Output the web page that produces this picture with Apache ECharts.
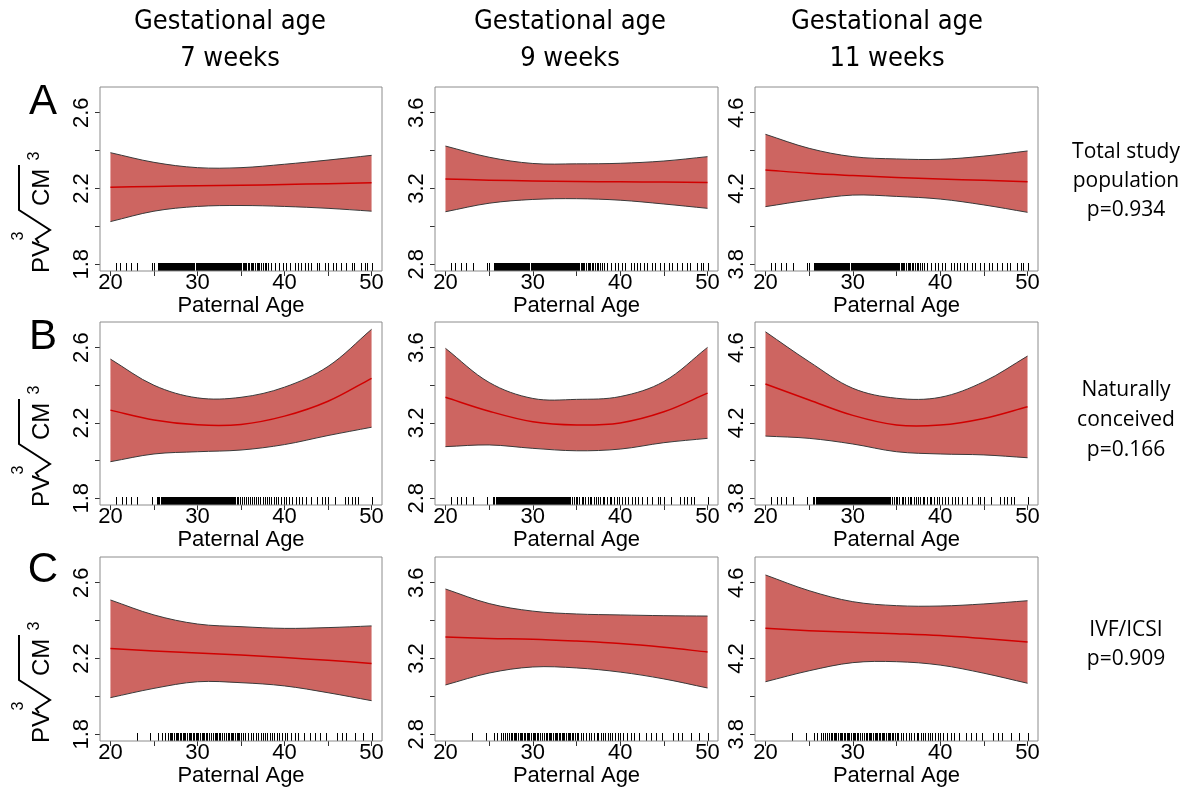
<!DOCTYPE html>
<html>
<head>
<meta charset="utf-8">
<script src="https://cdn.jsdelivr.net/npm/echarts@6/dist/echarts.min.js"></script>
<style>
  html, body { margin: 0; padding: 0; background: #fff; }
  #main { width: 1189px; height: 788px; }
</style>
</head>
<body>
<div id="main"></div>
<script>
// paternal age grid where the fitted curve and its band were read
var ages = [20, 25, 30, 35, 40, 45, 50]

// row A: total study population
var upperA7  = [2.389, 2.338, 2.310, 2.310, 2.328, 2.350, 2.375]
var fitA7    = [2.207, 2.211, 2.214, 2.217, 2.221, 2.225, 2.230]
var lowerA7  = [2.025, 2.080, 2.105, 2.110, 2.105, 2.095, 2.080]
var upperA9  = [3.424, 3.365, 3.332, 3.330, 3.333, 3.345, 3.368]
var fitA9    = [3.250, 3.244, 3.240, 3.237, 3.235, 3.234, 3.232]
var lowerA9  = [3.077, 3.122, 3.142, 3.146, 3.138, 3.118, 3.095]
var upperA11 = [4.486, 4.412, 4.368, 4.356, 4.354, 4.371, 4.398]
var fitA11   = [4.298, 4.280, 4.268, 4.258, 4.250, 4.243, 4.236]
var lowerA11 = [4.104, 4.139, 4.165, 4.158, 4.144, 4.113, 4.074]

// row B: naturally conceived
var upperB7  = [2.539, 2.400, 2.333, 2.336, 2.390, 2.500, 2.697]
var fitB7    = [2.268, 2.216, 2.190, 2.192, 2.236, 2.315, 2.437]
var lowerB7  = [1.994, 2.035, 2.047, 2.056, 2.085, 2.133, 2.177]
var upperB9  = [3.596, 3.415, 3.330, 3.325, 3.340, 3.420, 3.601]
var fitB9    = [3.336, 3.262, 3.206, 3.189, 3.200, 3.259, 3.358]
var lowerB9  = [3.074, 3.083, 3.065, 3.052, 3.061, 3.095, 3.118]
var upperB11 = [4.684, 4.525, 4.384, 4.331, 4.336, 4.419, 4.555]
var fitB11   = [4.407, 4.322, 4.240, 4.189, 4.189, 4.224, 4.286]
var lowerB11 = [4.130, 4.118, 4.088, 4.047, 4.035, 4.030, 4.015]

// row C: IVF/ICSI
var upperC7  = [2.509, 2.430, 2.382, 2.368, 2.359, 2.363, 2.372]
var fitC7    = [2.252, 2.240, 2.229, 2.218, 2.205, 2.190, 2.174]
var lowerC7  = [1.993, 2.042, 2.077, 2.072, 2.055, 2.019, 1.977]
var upperC9  = [3.567, 3.490, 3.450, 3.435, 3.430, 3.426, 3.424]
var fitC9    = [3.313, 3.306, 3.302, 3.292, 3.279, 3.259, 3.234]
var lowerC9  = [3.060, 3.123, 3.155, 3.150, 3.128, 3.092, 3.044]
var upperC11 = [4.641, 4.558, 4.500, 4.479, 4.477, 4.488, 4.505]
var fitC11   = [4.359, 4.347, 4.339, 4.331, 4.321, 4.305, 4.287]
var lowerC11 = [4.077, 4.135, 4.178, 4.183, 4.165, 4.122, 4.069]

// rug marks (observed paternal ages), one set per row
var rugA = [20.6, 21.1, 21.8, 22.4, 23.1, 24.8, 25.0,
  25.5, 25.6, 25.7, 25.8, 25.9, 26.0, 26.1, 26.2, 26.3, 26.4, 26.5, 26.6, 26.7, 26.8, 26.9, 27.0,
  27.1, 27.2, 27.3, 27.4, 27.5, 27.6, 27.7, 27.8, 27.9, 28.0, 28.1, 28.2, 28.3, 28.4, 28.5, 28.6,
  28.7, 28.8, 28.9, 29.0, 29.1, 29.2, 29.3, 29.4, 29.5, 29.6, 29.8, 29.9, 30.0, 30.1, 30.2, 30.3,
  30.4, 30.5, 30.6, 30.7, 30.8, 30.9, 31.0, 31.1, 31.2, 31.3, 31.4, 31.5, 31.6, 31.7, 31.8, 31.9,
  32.0, 32.1, 32.2, 32.3, 32.4, 32.5, 32.6, 32.7, 32.8, 32.9, 33.0, 33.1, 33.2, 33.3, 33.4, 33.5,
  33.6, 33.7, 33.8, 33.9, 34.0, 34.1, 34.2, 34.3, 34.4, 34.5, 34.6, 34.7, 34.8, 34.9, 35.0, 35.2,
  35.3, 35.5, 35.6, 35.8, 35.9, 36.1, 36.3, 36.4, 36.6, 36.8, 36.9, 37.1, 37.3, 37.5, 37.7, 37.9,
  38.1, 38.5, 38.9, 39.4, 39.8, 40.2, 40.6, 41.2, 41.6, 41.9, 42.3, 42.7, 43.1, 43.7, 44.0, 44.6,
  45.0, 45.6, 45.9, 46.5, 47.1, 47.7, 48.0, 48.8, 49.2, 49.5, 50.0]
var rugB = [20.6, 21.3, 21.8, 22.4, 23.1, 24.8,
  25.4, 25.5, 25.6, 25.8, 25.9, 26.0, 26.1, 26.2, 26.3, 26.4, 26.5, 26.6, 26.7, 26.8, 26.9, 27.0,
  27.1, 27.2, 27.3, 27.4, 27.5, 27.6, 27.7, 27.8, 27.9, 28.0, 28.1, 28.2, 28.3, 28.4, 28.5, 28.6,
  28.7, 28.8, 28.9, 29.0, 29.1, 29.2, 29.3, 29.4, 29.5, 29.6, 29.7, 29.8, 29.9, 30.0, 30.1, 30.2,
  30.3, 30.4, 30.5, 30.6, 30.7, 30.8, 30.9, 31.0, 31.1, 31.2, 31.3, 31.4, 31.5, 31.6, 31.7, 31.8,
  31.9, 32.0, 32.1, 32.2, 32.3, 32.4, 32.5, 32.6, 32.7, 32.8, 32.9, 33.0, 33.1, 33.2, 33.3, 33.4,
  33.5, 33.6, 33.7, 33.8, 33.9, 34.0, 34.1, 34.2, 34.3, 34.5, 34.7, 34.9, 35.1, 35.3, 35.6, 35.8,
  36.0, 36.3, 36.5, 36.7, 37.0, 37.2, 37.5, 37.7, 38.0, 38.2, 38.5, 38.8, 39.0, 39.3, 39.6, 39.9,
  40.2, 40.5, 40.9, 41.3, 41.7, 42.0, 42.5, 43.1, 43.7, 44.3, 44.6, 45.0, 45.8, 46.9, 47.3, 47.7,
  48.1, 48.5, 50.0]
var rugC = [23.0, 24.6, 25.5, 25.9, 26.3, 26.6, 26.8, 27.0, 27.1, 27.3, 27.5, 27.6, 27.8, 28.0,
  28.1, 28.3, 28.5, 28.6, 28.8, 29.0, 29.1, 29.3, 29.5, 29.6, 29.8, 30.0, 30.1, 30.3, 30.5, 30.6,
  30.8, 31.0, 31.1, 31.3, 31.5, 31.6, 31.8, 32.0, 32.1, 32.3, 32.5, 32.6, 32.8, 33.0, 33.1, 33.3,
  33.5, 33.6, 33.8, 34.0, 34.1, 34.3, 34.5, 34.6, 34.8, 35.0, 35.2, 35.5, 35.8, 36.1, 36.4, 36.7,
  37.0, 37.3, 37.5, 37.8, 38.0, 38.3, 38.6, 38.8, 39.1, 39.4, 39.7, 40.0, 40.3, 40.8, 41.2, 41.6,
  42.2, 42.9, 43.5, 44.1, 44.8, 46.0, 46.6, 47.1, 48.1, 49.0, 50.0]

// axis ticks and labels
var xTicks = [20, 25, 30, 35, 40, 45, 50]
var xLabels = [20, 30, 40, 50]
var yTicks7 = [1.8, 2.0, 2.2, 2.4, 2.6]
var yLabels7 = [1.8, 2.2, 2.6]
var yTicks9 = [2.8, 3.0, 3.2, 3.4, 3.6]
var yLabels9 = [2.8, 3.2, 3.6]
var yTicks11 = [3.8, 4.0, 4.2, 4.4, 4.6]
var yLabels11 = [3.8, 4.2, 4.6]

var colTitles = ['7 weeks', '9 weeks', '11 weeks']
var rowLetters = ['A', 'B', 'C']
var rowNotes = [
  ['Total study', 'population', 'p=0.934'],
  ['Naturally', 'conceived', 'p=0.166'],
  ['IVF/ICSI', 'p=0.909']
]

var FONT = '"Liberation Sans", Arial, sans-serif'
var TITLE_FONT = '27px "DejaVu Sans Condensed", "Liberation Sans Narrow", sans-serif'
var bandColor = '#cd6561'
var SMOOTH = 0.35

// layout
var cols = [
  { left: 100, width: 282, min: 1.764, max: 2.736, ticks: yTicks7, labels: yLabels7, titleX: 230 },
  { left: 435, width: 283, min: 2.764, max: 3.736, ticks: yTicks9, labels: yLabels9, titleX: 570 },
  { left: 755, width: 283, min: 3.764, max: 4.736, ticks: yTicks11, labels: yLabels11, titleX: 887 }
]
var rows = [
  { top: 87, height: 184, letterY: 102, notes: [152, 181, 210] },
  { top: 322, height: 183, letterY: 337, notes: [390, 420, 450] },
  { top: 557, height: 184, letterY: 570, notes: [630, 659] }
]
var panels = [
  [{ up: upperA7, fit: fitA7, lo: lowerA7 }, { up: upperA9, fit: fitA9, lo: lowerA9 }, { up: upperA11, fit: fitA11, lo: lowerA11 }],
  [{ up: upperB7, fit: fitB7, lo: lowerB7 }, { up: upperB9, fit: fitB9, lo: lowerB9 }, { up: upperB11, fit: fitB11, lo: lowerB11 }],
  [{ up: upperC7, fit: fitC7, lo: lowerC7 }, { up: upperC9, fit: fitC9, lo: lowerC9 }, { up: upperC11, fit: fitC11, lo: lowerC11 }]
]
var rugs = [rugA, rugB, rugC]

// repeat the end points so the closed band and the open edges share one smoothing
function ends(pts) {
  return [pts[0]].concat(pts, [pts[pts.length - 1]])
}

// band + edges + fitted line, all mapped through the panel's axes
function renderBand(params, api) {
  if (params.dataIndexInside !== 0) return null
  var n = params.dataInsideLength
  var lo = [], fit = [], up = []
  for (var k = 0; k < n; k++) {
    var x = api.value(0, k)
    lo.push(api.coord([x, api.value(1, k)]))
    fit.push(api.coord([x, api.value(2, k)]))
    up.push(api.coord([x, api.value(3, k)]))
  }
  var ring = ends(up).concat(ends(lo).reverse())
  return {
    type: 'group',
    children: [
      { type: 'polygon', shape: { points: ring, smooth: SMOOTH }, style: { fill: bandColor, stroke: null } },
      { type: 'polyline', shape: { points: ends(up), smooth: SMOOTH }, style: { stroke: '#3a3a3a', lineWidth: 1, fill: null } },
      { type: 'polyline', shape: { points: ends(lo), smooth: SMOOTH }, style: { stroke: '#3a3a3a', lineWidth: 1, fill: null } },
      { type: 'polyline', shape: { points: ends(fit), smooth: SMOOTH }, style: { stroke: '#d10000', lineWidth: 1.5, fill: null } }
    ]
  }
}

function renderRug(params, api) {
  var pt = api.coord([api.value(0), api.value(1)])
  return {
    type: 'rect',
    shape: { x: Math.round(pt[0]), y: pt[1] - 8, width: 1, height: 8 },
    style: { fill: '#000' }
  }
}

var grids = [], xAxes = [], yAxes = [], series = [], graphics = []

for (var i = 0; i < 3; i++) {
  for (var j = 0; j < 3; j++) {
    var idx = i * 3 + j
    var c = cols[j], r = rows[i], p = panels[i][j]
    grids.push({
      left: c.left, top: r.top, width: c.width, height: r.height,
      show: true, borderColor: '#8c8c8c', borderWidth: 1, z: 10
    })
    xAxes.push({
      gridIndex: idx, type: 'value', min: 18.8, max: 51.2,
      axisLine: { show: false }, splitLine: { show: false },
      axisTick: { show: true, customValues: xTicks, length: 5, lineStyle: { color: '#333' } },
      axisLabel: { customValues: xLabels, margin: 1, fontSize: 22, fontFamily: FONT, color: '#000' },
      name: 'Paternal Age', nameLocation: 'middle', nameGap: 19,
      nameTextStyle: { fontSize: 22, fontFamily: FONT, color: '#000' }
    })
    yAxes.push({
      gridIndex: idx, type: 'value', min: c.min, max: c.max,
      axisLine: { show: false }, splitLine: { show: false },
      axisTick: { show: true, customValues: c.ticks, length: 5, lineStyle: { color: '#333' } },
      axisLabel: {
        customValues: c.labels, rotate: 90, margin: 7, fontSize: 22, fontFamily: FONT, color: '#000',
        formatter: function (v) { return v.toFixed(1) }
      }
    })
    series.push({
      type: 'custom', xAxisIndex: idx, yAxisIndex: idx, z: 2, silent: true,
      data: ages.map(function (x, k) { return [x, p.lo[k], p.fit[k], p.up[k]] }),
      encode: { x: 0, y: [1, 2, 3] },
      renderItem: renderBand
    })
    series.push({
      type: 'custom', xAxisIndex: idx, yAxisIndex: idx, z: 5, silent: true,
      data: rugs[i].map(function (a) { return [a, c.min] }),
      encode: { x: 0, y: 1 },
      renderItem: renderRug
    })
  }
}

// column titles
cols.forEach(function (c, j) {
  graphics.push({ type: 'text', x: c.titleX, y: 22,
    style: { text: 'Gestational age', font: TITLE_FONT, fill: '#000', align: 'center', verticalAlign: 'middle' } })
  graphics.push({ type: 'text', x: c.titleX, y: 59,
    style: { text: colTitles[j], font: TITLE_FONT, fill: '#000', align: 'center', verticalAlign: 'middle' } })
})

rows.forEach(function (r, i) {
  // panel letter
  graphics.push({ type: 'text', x: 43, y: r.letterY,
    style: { text: rowLetters[i], font: '42px ' + FONT, fill: '#000', align: 'center', verticalAlign: 'middle' } })
  // notes on the right
  rowNotes[i].forEach(function (t, k) {
    graphics.push({ type: 'text', x: 1126, y: r.notes[k],
      style: { text: t, font: '21px "Open Sans", sans-serif', fill: '#000', align: 'center', verticalAlign: 'middle' } })
  })
  // y title  PV ∛CM³  turned to read upwards
  graphics.push({
    type: 'group', x: 50, y: r.top + r.height + 2, rotation: Math.PI / 2,
    children: [
      { type: 'text', x: 0, y: -8, style: { text: 'PV', font: '24px ' + FONT, fill: '#000', align: 'left', verticalAlign: 'middle' } },
      { type: 'text', x: 37, y: -31, style: { text: '3', font: '16px ' + FONT, fill: '#000', align: 'center', verticalAlign: 'middle' } },
      { type: 'polyline', shape: { points: [[30, -11], [34, -14], [43, 0], [63, -31], [108, -31]] },
        style: { stroke: '#000', lineWidth: 2, fill: null } },
      { type: 'text', x: 67, y: -8, style: { text: 'CM', font: '24px ' + FONT, fill: '#000', align: 'left', verticalAlign: 'middle' } },
      { type: 'text', x: 117, y: -15, style: { text: '3', font: '16px ' + FONT, fill: '#000', align: 'center', verticalAlign: 'middle' } }
    ]
  })
})

var chart = echarts.init(document.getElementById('main'))
chart.setOption({
  animation: false,
  backgroundColor: '#fff',
  grid: grids,
  xAxis: xAxes,
  yAxis: yAxes,
  series: series,
  graphic: graphics
})
</script>
</body>
</html>
